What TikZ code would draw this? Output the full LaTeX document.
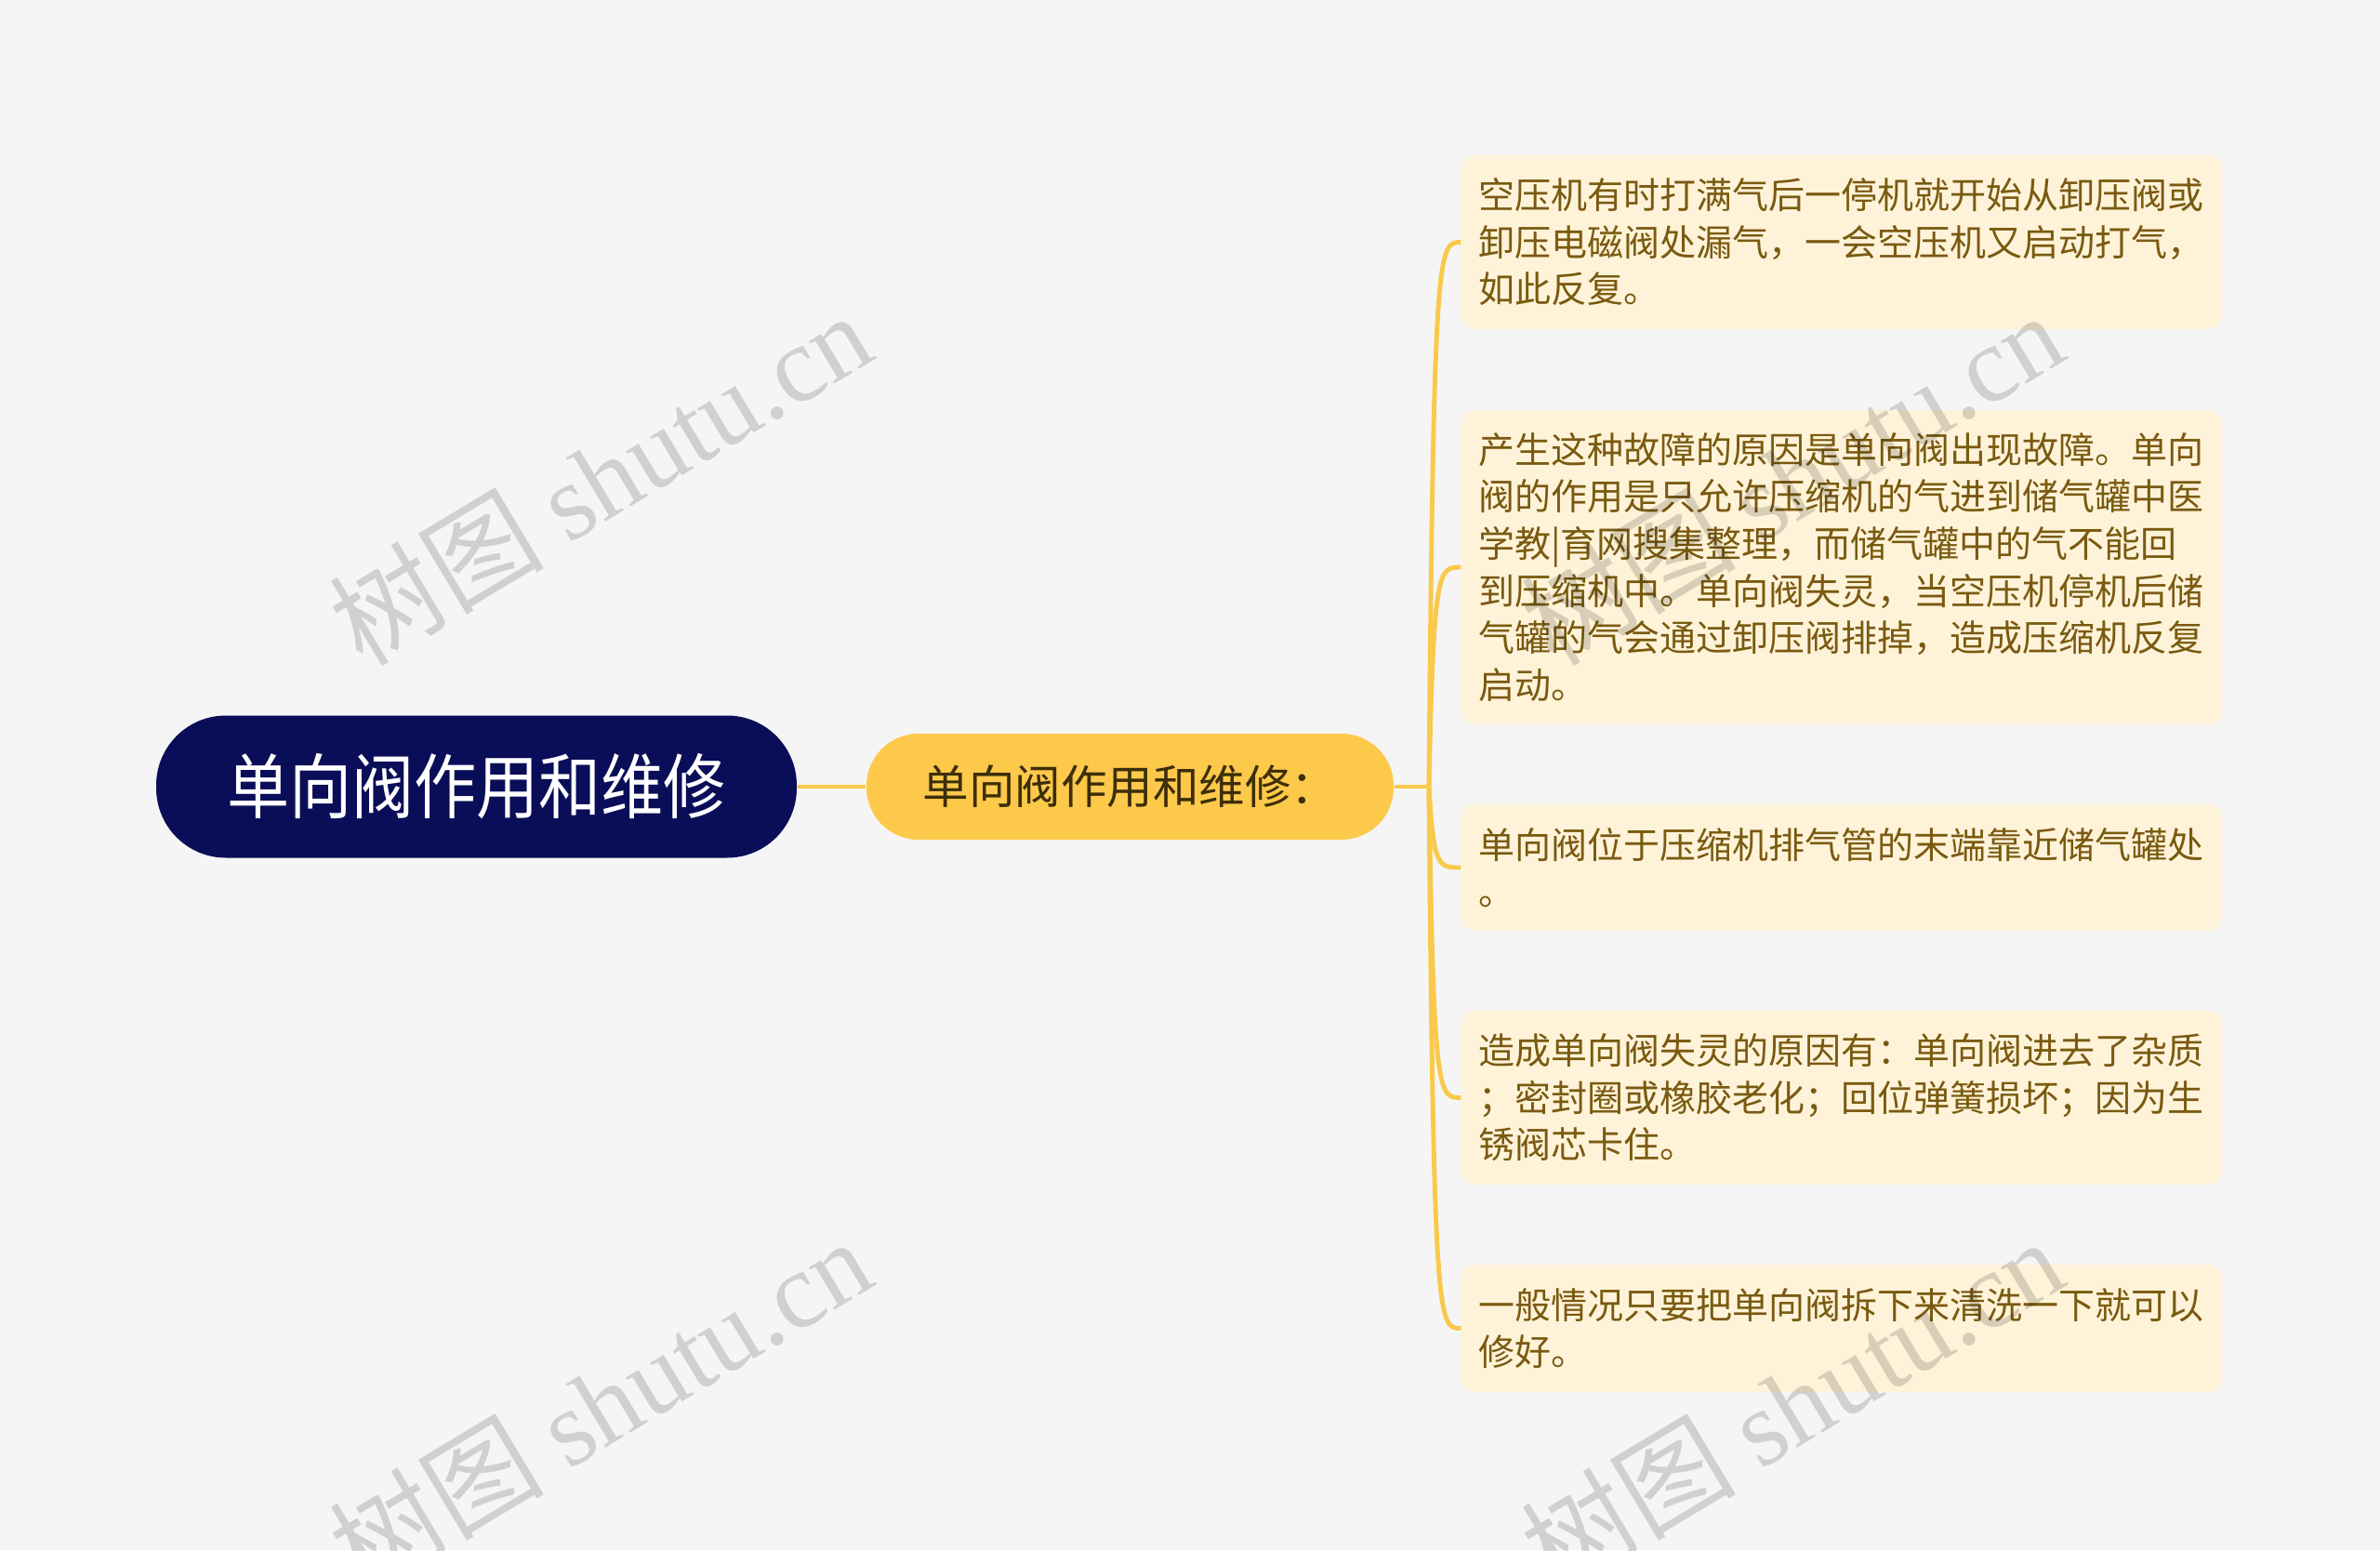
\documentclass[tikz,border=0pt]{standalone}
\usepackage{fontspec}
\setmainfont{Noto Sans CJK SC}
\newfontfamily\rootfont[FakeStretch=0.88]{Noto Sans CJK SC}
\newfontfamily\wmfont{Liberation Serif}
\usepackage{tikz}
\usetikzlibrary{calc}
\definecolor{paper}{HTML}{F5F5F5}
\definecolor{rootblue}{HTML}{0A0E58}
\definecolor{midyellow}{HTML}{FDC94A}
\definecolor{midtext}{HTML}{3D2E0A}
\definecolor{linkyellow}{HTML}{F9C94B}
\definecolor{leaffill}{HTML}{FEF3D9}
\definecolor{leaftext}{HTML}{7A5A10}

\begin{document}
\begin{tikzpicture}[
rootnode/.style={fill=rootblue, text=white, rounded corners=0.75cm, minimum width=6.89cm, minimum height=1.53cm, font=\rootfont\fontsize{21.7}{26}\selectfont},
midnode/.style={fill=midyellow, text=midtext, rounded corners=0.56cm, minimum width=5.67cm, minimum height=1.14cm, font=\fontsize{14.1}{17}\selectfont},
leaf/.style={fill=leaffill, text=leaftext, rounded corners=0.14cm, text width=7.82cm, inner xsep=0.18cm, align=left, font=\fontsize{11.1}{14.4}\selectfont},
branch/.style={draw=linkyellow, line width=1.4pt},
watermark/.style={text=black, text opacity=0.15, rotate=31, font=\fontsize{33}{38}\selectfont}
]
    % Draw background
    \useasboundingbox (0,0) rectangle (25.6,16.67);
    \fill [paper] (0,0) rectangle (25.6,16.67);

    % main topic and sub topic
    \node[rootnode] (root) at (5.125, 8.21) {单向阀作用和维修};
    \node[midnode] (mid) at (12.155, 8.21) {单向阀作用和维修：};

    % details
    \node[leaf, minimum height=1.87cm] (L1) at (19.81, 14.065)
        {空压机有时打满气后一停机就开始从卸压阀或\\卸压电磁阀处漏气，一会空压机又启动打气，\\如此反复。};
    \node[leaf, minimum height=3.38cm] (L2) at (19.81, 10.57)
        {产生这种故障的原因是单向阀出现故障。单向\\阀的作用是只允许压缩机的气进到储气罐中医\\学教|育网搜集整理，而储气罐中的气不能回\\到压缩机中。单向阀失灵，当空压机停机后储\\气罐的气会通过卸压阀排掉，造成压缩机反复\\启动。};
    \node[leaf, minimum height=1.36cm] (L3) at (19.81, 7.34)
        {单向阀位于压缩机排气管的末端靠近储气罐处\\。};
    \node[leaf, minimum height=1.87cm] (L4) at (19.81, 4.865)
        {造成单向阀失灵的原因有：单向阀进去了杂质\\；密封圈或橡胶老化；回位弹簧损坏；因为生\\锈阀芯卡住。};
    \node[leaf, minimum height=1.37cm] (L5) at (19.81, 2.385)
        {一般情况只要把单向阀拆下来清洗一下就可以\\修好。};

    % connectors
    \coordinate (fork) at (15.37, 8.21);
    \draw[branch] (root.east) -- (mid.west);
    \draw[branch] (mid.east) -- (fork);
    \foreach \n in {L1,L2,L3,L4,L5}
        \draw[branch] (fork) .. controls ($(fork |- \n.west)+(0.05,0)$) and ($(fork |- \n.west)+(0.10,0)$) .. (\n.west);

    % watermarks
    \node[watermark] (wm1) at (6.45, 11.53) {树图 {\wmfont shutu.cn}};
    \node[watermark] (wm2) at (6.45, 1.57) {树图 {\wmfont shutu.cn}};
    \node[watermark] (wm3) at (19.27, 11.53) {树图 {\wmfont shutu.cn}};
    \node[watermark] (wm4) at (19.27, 1.57) {树图 {\wmfont shutu.cn}};
\end{tikzpicture}
\end{document}
